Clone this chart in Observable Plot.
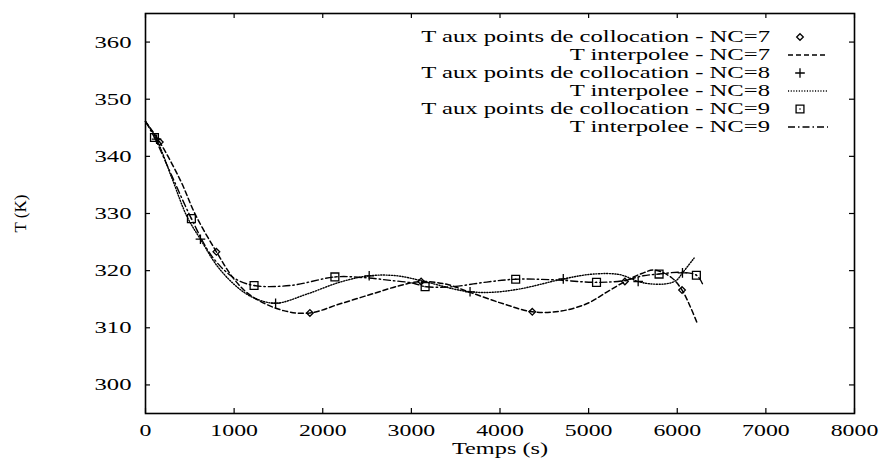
<!DOCTYPE html>
<html><head><meta charset="utf-8">
<script src="https://cdn.jsdelivr.net/npm/d3@7"></script>
<script src="https://cdn.jsdelivr.net/npm/@observablehq/plot@0.6"></script>
<style>
body{margin:0;background:#fff;}
#chart svg{font-family:"Liberation Serif",serif;}
</style></head><body><div id="chart"></div>
<script>
// ---- data ----
const xTicks = [0,1000,2000,3000,4000,5000,6000,7000,8000];
const yTicks = [300,310,320,330,340,350,360];
const xDomain = [0,8000];
const yDomain = [295,365];
const xLabel = "Temps (s)";
const yLabel = "T (K)";
const seriesNames = ["NC=7","NC=8","NC=9"];
const pointPrefix = "T aux points de collocation - ";
const curvePrefix = "T interpolee - ";

// collocation points
const pts7t = [161, 800, 1855, 3110, 4364, 5409, 6054];
const pts7T = [342.5, 323.3, 312.6, 318.1, 312.8, 318.1, 316.6];
const pts8t = [125, 620, 1468, 2524, 3662, 4714, 5559, 6059];
const pts8T = [343.0, 325.5, 314.3, 319.1, 316.3, 318.55, 318.1, 319.6];
const pts9t = [101, 518, 1225, 2137, 3155, 4177, 5089, 5795, 6216];
const pts9T = [343.3, 329.1, 317.4, 318.9, 317.2, 318.5, 317.95, 319.4, 319.2];

// interpolated curves
const cur7t = [0, 161, 400, 563, 800, 1000, 1200, 1558, 1855, 2197, 2573, 2873, 3110, 3400, 3662, 4037, 4364, 4676, 4977, 5200, 5409, 5600, 5746, 5934, 6054, 6141, 6223];
const cur7T = [346.1, 342.5, 335.6, 329.8, 323.3, 318.5, 315.5, 313.0, 312.6, 314.2, 316.0, 317.4, 318.1, 317.6, 316.2, 314.2, 312.8, 312.9, 314.2, 316.2, 318.1, 319.5, 320.1, 318.8, 316.6, 313.9, 310.9];
const cur8t = [0, 125, 300, 470, 620, 800, 1000, 1200, 1468, 1822, 2197, 2524, 2836, 3174, 3474, 3662, 3900, 4225, 4714, 5051, 5352, 5559, 5690, 5877, 5990, 6059, 6190];
const cur8T = [346.1, 343.0, 336.1, 329.4, 325.5, 321.0, 317.6, 315.4, 314.3, 315.9, 318.0, 319.1, 319.1, 318.0, 316.8, 316.3, 316.2, 316.8, 318.55, 319.4, 319.3, 318.1, 317.7, 317.7, 318.3, 319.6, 322.2];
const cur9t = [0, 101, 300, 518, 750, 1000, 1225, 1634, 2137, 2450, 2761, 3023, 3155, 3300, 3474, 3850, 4177, 4600, 5089, 5390, 5615, 5795, 6028, 6216, 6291];
const cur9T = [346.1, 343.3, 336.5, 329.1, 322.5, 318.7, 317.4, 317.4, 318.9, 318.8, 318.3, 317.8, 317.2, 317.1, 317.2, 318.0, 318.5, 318.4, 317.95, 318.25, 319.1, 319.4, 319.7, 319.2, 317.5];

// ---- styles ----
const symbols = ["diamond2","plus","square2"];
const symbolR = [3.0, 3.2, 5.0];
const dashes = ["5,3","1.1,1.6","7,3,1.5,3"];
const lineW = [1.5, 1.4, 1.4];

const rows = (ts, vs) => ts.map((t,i) => ({t, T: vs[i]}));
const pts = [rows(pts7t,pts7T), rows(pts8t,pts8T), rows(pts9t,pts9T)];
const curves = [rows(cur7t,cur7T), rows(cur8t,cur8T), rows(cur9t,cur9T)];

const W = 883, H = 459, mL = 145, mR = 29, mT = 13, mB = 46;
const fw = W - mL - mR, fh = H - mT - mB, tk = 5;

const marks = [
  Plot.frame({strokeWidth: 1.6}),
  Plot.ruleX(xTicks, {insetTop: fh - tk, strokeWidth: 1.2}),
  Plot.ruleX(xTicks, {insetBottom: fh - tk, strokeWidth: 1.2}),
  Plot.ruleY(yTicks, {insetRight: fw - tk, strokeWidth: 1.2}),
  Plot.ruleY(yTicks, {insetLeft: fw - tk, strokeWidth: 1.2}),
  Plot.axisX(xTicks, {anchor: "bottom", tickSize: 0, tickPadding: 10, tickFormat: d3.format("d"), label: xLabel, labelAnchor: "center", labelArrow: "none", labelOffset: 40}),
  Plot.axisY(yTicks, {anchor: "left", tickSize: 0, tickPadding: 14, tickFormat: d3.format("d"), label: yLabel, labelAnchor: "center", labelArrow: "none", labelOffset: 132}),
];
for (let i = 0; i < 3; i++) {
  marks.push(Plot.line(curves[i], {x: "t", y: "T", curve: "catmull-rom", stroke: "black", strokeWidth: lineW[i], strokeDasharray: dashes[i]}));
}
for (let i = 0; i < 3; i++) {
  marks.push(Plot.dot(pts[i], {x: "t", y: "T", symbol: symbols[i], r: symbolR[i], stroke: "black", strokeWidth: 1.3, fill: "none"}));
}
marks.push(Plot.dot(pts[2], {x: "t", y: "T", r: 0.8, fill: "black", stroke: "none"}));

const svg = Plot.plot({
  width: W, height: H, marginLeft: mL, marginRight: mR, marginTop: mT, marginBottom: mB,
  style: {fontFamily: "Liberation Serif, serif", fontSize: "17px", color: "black", background: "white"},
  x: {domain: xDomain}, y: {domain: yDomain},
  marks
});
document.getElementById("chart").appendChild(svg);

// ---- legend (inside frame, top right) ----
const leg = d3.select(svg).append("g").attr("font-family", "Liberation Serif, serif").attr("font-size", "16px").attr("fill", "black");
const textRight = 770, symX = 800, lineX1 = 788, lineX2 = 828, base0 = 42, rowH = 18;
for (let i = 0; i < 3; i++) {
  const yb1 = base0 + rowH * (2*i), yb2 = base0 + rowH * (2*i + 1);
  leg.append("text").attr("x", textRight).attr("y", yb1).attr("text-anchor", "end").attr("class", "lt").text(pointPrefix + seriesNames[i]);
  const symType = {diamond2: d3.symbolDiamond2, plus: d3.symbolPlus, square2: d3.symbolSquare2}[symbols[i]];
  leg.append("path").attr("d", d3.symbol(symType, Math.PI * symbolR[i] * symbolR[i])())
    .attr("transform", `translate(${symX},${yb1 - 5})`).attr("fill", "none").attr("stroke", "black").attr("stroke-width", 1.3);
  if (i === 2) leg.append("circle").attr("cx", symX).attr("cy", yb1 - 5).attr("r", 0.8).attr("fill", "black");
  leg.append("text").attr("x", textRight).attr("y", yb2).attr("text-anchor", "end").attr("class", "lt").text(curvePrefix + seriesNames[i]);
  leg.append("line").attr("x1", lineX1).attr("x2", lineX2).attr("y1", yb2 - 5).attr("y2", yb2 - 5)
    .attr("stroke", "black").attr("stroke-width", lineW[i]).attr("stroke-dasharray", dashes[i]);
}

// horizontal stretch of text (scanned figure is wider than the font)
function stretch(sel, k) {
  sel.each(function() {
    const L = this.getComputedTextLength();
    if (L > 0) { this.setAttribute("textLength", L * k); this.setAttribute("lengthAdjust", "spacingAndGlyphs"); }
  });
}
const s = d3.select(svg);
stretch(s.selectAll('g[aria-label="x-axis tick label"] text'), 1.4);
stretch(s.selectAll('g[aria-label="y-axis tick label"] text'), 1.45);
stretch(s.selectAll('g[aria-label="x-axis label"] text'), 1.43);
stretch(leg.selectAll("text.lt"), 1.54);
</script></body></html>
